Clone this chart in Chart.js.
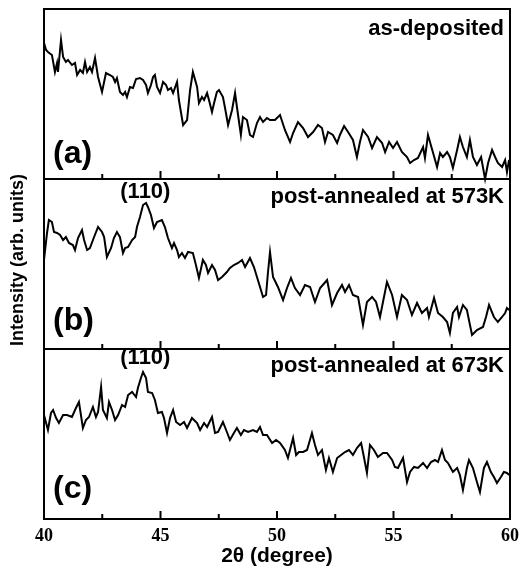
<!DOCTYPE html>
<html>
<head>
<meta charset="utf-8">
<script src="https://cdn.jsdelivr.net/npm/chart.js@4/dist/chart.umd.min.js"></script>
<style>
  html, body { margin: 0; padding: 0; background: #fff; }
  canvas { display: block; }
</style>
</head>
<body>
<canvas id="xrdChart" width="520" height="577"></canvas>
<script>
// 2theta positions (degree) and intensities (arb. units)
const thetaA = [40.00,40.09,40.17,40.34,40.47,40.56,40.60,40.73,40.82,40.94,41.03,41.20,41.33,41.42,41.55,41.67,41.76,41.85,41.97,42.06,
  42.19,42.32,42.49,42.66,42.83,42.96,43.05,43.13,43.26,43.39,43.48,43.56,43.69,43.82,43.95,44.12,44.25,44.38,44.46,44.59,
  44.68,44.76,44.85,44.98,45.11,45.24,45.32,45.45,45.54,45.71,45.79,45.97,46.14,46.27,46.39,46.57,46.65,46.78,46.87,47.00,
  47.08,47.21,47.30,47.42,47.51,47.68,47.77,47.90,48.07,48.20,48.28,48.45,48.54,48.71,48.84,48.97,49.14,49.27,49.40,49.57,
  49.70,49.91,50.13,50.34,50.56,50.69,50.90,51.12,51.33,51.55,51.76,51.93,52.06,52.19,52.40,52.58,52.70,52.88,53.05,53.26,
  53.43,53.56,53.69,53.91,54.08,54.29,54.51,54.64,54.81,54.98,55.15,55.36,55.58,55.71,55.88,56.05,56.27,56.35,56.48,56.70,
  56.87,57.00,57.12,57.30,57.42,57.55,57.73,57.85,57.98,58.15,58.28,58.41,58.58,58.76,58.93,59.06,59.23,59.36,59.48,59.66,
  59.79,59.87,59.96];
const intA = [136,129,127,124,107,116,107,139,122,117,119,114,116,104,109,106,117,107,112,107,
  121,102,87,106,104,102,97,101,87,84,87,82,92,91,100,101,99,94,86,94,
  102,104,92,86,97,94,89,91,86,97,79,54,59,89,107,92,76,82,79,86,
  79,67,76,87,89,82,71,54,69,86,72,44,62,59,44,42,56,62,57,61,
  59,59,64,49,37,46,57,51,42,47,54,51,37,47,44,36,44,53,47,39,
  22,37,49,42,31,42,36,27,37,31,37,27,22,16,19,21,32,21,44,26,
  12,26,22,27,22,11,29,42,32,22,39,22,14,22,0,16,29,22,16,12,
  19,7,19];

const thetaB = [40.00,40.13,40.21,40.34,40.43,40.56,40.69,40.82,40.94,41.07,41.24,41.33,41.46,41.63,41.72,41.85,41.97,42.15,42.32,42.49,
  42.58,42.70,42.88,43.00,43.13,43.26,43.39,43.48,43.61,43.78,43.91,43.99,44.12,44.25,44.38,44.46,44.59,44.72,44.85,45.06,
  45.19,45.32,45.49,45.58,45.71,45.79,45.92,46.05,46.18,46.39,46.52,46.65,46.82,46.95,47.04,47.21,47.34,47.47,47.64,47.85,
  47.98,48.15,48.33,48.50,48.63,48.84,49.01,49.18,49.40,49.53,49.61,49.70,49.83,50.04,50.26,50.43,50.60,50.77,50.99,51.20,
  51.42,51.63,51.85,52.15,52.36,52.58,52.79,52.92,53.09,53.26,53.48,53.69,53.86,54.08,54.25,54.42,54.72,54.94,55.15,55.36,
  55.58,55.79,56.01,56.22,56.44,56.52,56.74,56.91,57.12,57.30,57.42,57.55,57.73,57.81,57.98,58.15,58.37,58.58,58.84,58.97,
  59.10,59.31,59.48,59.66,59.79,59.87,59.96];
const intB = [89,116,129,127,117,116,114,109,112,106,104,99,111,119,109,99,101,112,122,117,
  112,92,101,111,117,112,96,101,102,109,112,122,132,144,146,142,134,121,127,129,
  122,111,101,106,99,92,96,91,97,96,84,71,89,84,76,84,79,69,72,77,
  81,84,86,89,82,91,82,69,52,54,76,97,72,62,49,61,71,61,54,64,
  62,47,61,69,44,56,64,57,64,54,52,24,47,52,47,32,67,54,32,54,
  49,34,46,36,41,32,51,36,32,27,16,36,42,32,44,39,14,19,22,32,
  44,32,27,32,36,41,39];

const thetaC = [40.00,40.09,40.17,40.30,40.39,40.52,40.64,40.82,40.99,41.20,41.37,41.50,41.67,41.80,41.93,42.10,42.23,42.32,42.45,42.53,
  42.70,42.79,42.92,43.05,43.18,43.35,43.48,43.61,43.78,43.95,44.03,44.16,44.25,44.38,44.46,44.64,44.76,44.89,45.06,45.15,
  45.28,45.41,45.54,45.67,45.84,46.01,46.14,46.35,46.57,46.70,46.87,47.00,47.21,47.34,47.47,47.68,47.85,47.98,48.15,48.28,
  48.45,48.58,48.76,48.97,49.14,49.27,49.40,49.57,49.79,49.96,50.13,50.34,50.47,50.69,50.82,50.94,51.12,51.29,51.50,51.63,
  51.76,51.93,52.10,52.23,52.40,52.58,52.75,52.92,53.09,53.26,53.43,53.61,53.73,53.86,53.99,54.16,54.33,54.55,54.72,54.94,
  55.06,55.19,55.41,55.58,55.71,55.88,56.05,56.27,56.44,56.61,56.78,56.91,57.08,57.21,57.34,57.55,57.73,57.85,57.98,58.15,
  58.24,58.41,58.58,58.71,58.88,59.01,59.18,59.31,59.44,59.61,59.74,59.87,59.96];
const intC = [104,96,89,106,109,101,96,104,104,102,111,117,91,99,102,112,102,107,132,109,
  101,117,109,99,104,114,112,124,127,122,131,141,147,141,127,126,119,106,107,101,
  86,101,109,97,94,97,91,101,96,89,96,92,102,86,87,97,87,79,86,91,
  84,89,87,89,87,92,84,84,76,79,76,69,61,81,64,67,67,69,86,74,
  64,69,49,61,47,61,64,67,69,64,71,76,62,46,74,69,62,66,66,59,
  52,51,61,37,47,52,51,56,51,57,59,57,69,59,56,47,51,44,29,51,
  59,51,37,27,51,57,47,42,36,42,47,46,44];

const xTicks = [40, 45, 50, 55, 60];
const panelNames = ['(a)', '(b)', '(c)'];
const conditions = ['as-deposited', 'post-annealed at 573K', 'post-annealed at 673K'];
const peakNames = ['', '(110)', '(110)'];

const PANEL = 170; // height of one panel in intensity units
const series = [[thetaA, intA], [thetaB, intB], [thetaC, intC]];

const datasets = series.map(function (s, i) {
  const shift = (2 - i) * PANEL; // (a) on top, (c) at the bottom
  return {
    data: s[0].map((t, k) => ({ x: t, y: s[1][k] + shift })),
    borderColor: '#000',
    borderWidth: 2,
    pointRadius: 0,
    tension: 0,
    fill: false
  };
});

const SANS = "'Liberation Sans', Arial, sans-serif";

const panelPlugin = {
  id: 'panels',
  afterDraw(chart) {
    const { ctx, chartArea: area, scales: { x, y } } = chart;
    ctx.save();
    ctx.strokeStyle = '#000';
    ctx.fillStyle = '#000';
    ctx.lineWidth = 2;
    ctx.strokeRect(area.left, area.top, area.right - area.left, area.bottom - area.top);

    for (let i = 0; i < 3; i++) {
      const base = (2 - i) * PANEL;
      const yBottom = y.getPixelForValue(base);
      const yTop = y.getPixelForValue(base + PANEL);

      // separator line between panels
      if (i < 2) {
        ctx.beginPath();
        ctx.moveTo(area.left, yBottom);
        ctx.lineTo(area.right, yBottom);
        ctx.stroke();
      }

      // inward ticks along the bottom of every panel
      for (let v = 40; v <= 60; v += 2.5) {
        const px = x.getPixelForValue(v);
        const len = v % 5 === 0 ? 8 : 5;
        ctx.beginPath();
        ctx.moveTo(px, yBottom);
        ctx.lineTo(px, yBottom - len);
        ctx.stroke();
      }

      // panel letter
      ctx.font = 'bold 32px ' + SANS;
      ctx.textAlign = 'left';
      ctx.textBaseline = 'alphabetic';
      ctx.fillText(panelNames[i], area.left + 9, yBottom - [16, 19, 21][i]);

      // condition text
      ctx.font = 'bold 22px ' + SANS;
      ctx.textAlign = 'right';
      ctx.fillText(conditions[i], area.right - 6, yTop + [26, 24, 23][i]);

      // peak index
      if (peakNames[i]) {
        ctx.textAlign = 'center';
        ctx.fillText(peakNames[i], x.getPixelForValue(44.35), yTop + [0, 19, 15][i]);
      }
    }

    // y axis title
    ctx.translate(18, (area.top + area.bottom) / 2 - 4);
    ctx.rotate(-Math.PI / 2);
    ctx.font = 'bold 18px ' + SANS;
    ctx.textAlign = 'center';
    ctx.textBaseline = 'middle';
    ctx.fillText('Intensity (arb. units)', 0, 0);
    ctx.restore();
  }
};

const ctx = document.getElementById('xrdChart').getContext('2d');
const xrdChart = new Chart(ctx, {
  type: 'line',
  data: { datasets: datasets },
  options: {
    responsive: false,
    animation: false,
    layout: { padding: { left: 44, right: 10, top: 9, bottom: 0 } },
    plugins: {
      legend: { display: false },
      tooltip: { enabled: false }
    },
    scales: {
      x: {
        type: 'linear',
        min: 40,
        max: 60,
        afterBuildTicks: function (scale) {
          scale.ticks = xTicks.map(v => ({ value: v }));
        },
        afterFit: function (scale) {
          scale.height = 58;
          scale.paddingLeft = 0;
          scale.paddingRight = 0;
        },
        grid: { display: false, drawTicks: false },
        border: { display: false },
        ticks: {
          color: '#000',
          padding: 7,
          maxRotation: 0,
          font: { family: "'Liberation Serif', 'Times New Roman', serif", size: 18, weight: 'bold' }
        },
        title: {
          display: true,
          text: '2\u03b8 (degree)',
          color: '#000',
          padding: { top: 0, bottom: 8 },
          font: { family: SANS, size: 21, weight: 'bold' }
        }
      },
      y: {
        display: false,
        min: 0,
        max: 3 * PANEL
      }
    }
  },
  plugins: [panelPlugin]
});
</script>
</body>
</html>
